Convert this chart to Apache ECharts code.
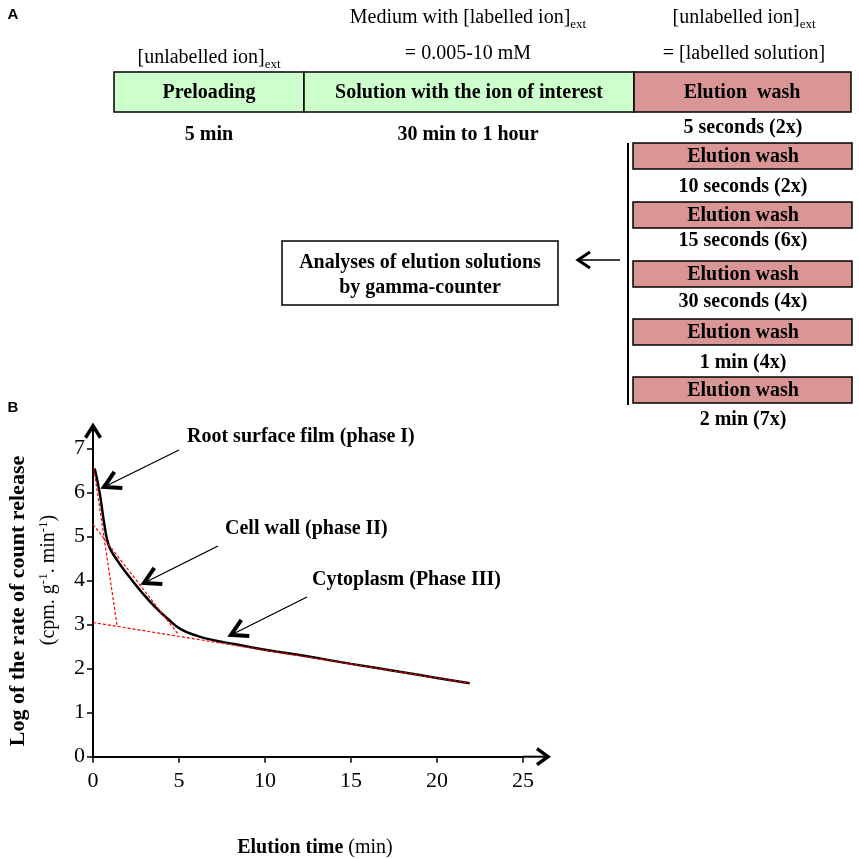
<!DOCTYPE html>
<html><head><meta charset="utf-8">
<script src="https://cdn.jsdelivr.net/npm/echarts@6/dist/echarts.min.js"></script>
<style>html,body{margin:0;padding:0;background:#fff}#c{width:859px;height:859px}</style>
</head><body><div id="c"></div>
<script>
// ---- data ----
const xTickValues = [0, 5, 10, 15, 20, 25];
const yTickValues = [0, 1, 2, 3, 4, 5, 6, 7];
const curveX = [0.1, 0.39, 0.68, 0.91, 1.26, 2.03, 2.81, 3.59, 4.36, 5.1, 6.1, 7.0, 8.2, 10, 12, 15, 18, 20, 21.9];
const curveY = [6.55, 5.99, 5.23, 4.81, 4.55, 4.13, 3.75, 3.41, 3.13, 2.9, 2.74, 2.65, 2.56, 2.43, 2.31, 2.11, 1.92, 1.79, 1.67];
const phase1X = [0.05, 1.41];
const phase1Y = [6.55, 2.95];
const phase2X = [0, 4.98];
const phase2Y = [5.28, 2.77];
const phase3X = [0, 21.9];
const phase3Y = [3.05, 1.67];
const phaseLabels = ['Root surface film (phase I)', 'Cell wall (phase II)', 'Cytoplasm (Phase III)'];
const washDurations = ['10 seconds (2x)', '15 seconds (6x)', '30 seconds (4x)', '1 min (4x)', '2 min (7x)'];

const pairs = (xs, ys) => xs.map((x, i) => [x, ys[i]]);
const SERIF = '"Liberation Serif","Times New Roman",serif';
const chart = echarts.init(document.getElementById('c'), null, {renderer: 'canvas'});

const redStyle = {color: '#ff0000', width: 1.2, type: [3, 2]};
chart.setOption({
  animation: false,
  backgroundColor: '#fff',
  grid: {left: 93, top: 448.7, width: 430, height: 308, containLabel: false},
  xAxis: {
    type: 'value', min: 0, max: 25, interval: 5,
    axisLine: {show: true, lineStyle: {color: '#000', width: 2}},
    axisTick: {show: true, inside: false, length: 6, lineStyle: {color: '#000', width: 1.5}},
    axisLabel: {color: '#000', fontFamily: SERIF, fontSize: 22, margin: 14},
    splitLine: {show: false}
  },
  yAxis: {
    type: 'value', min: 0, max: 7, interval: 1,
    axisLine: {show: true, lineStyle: {color: '#000', width: 2}},
    axisTick: {show: true, inside: false, length: 6, lineStyle: {color: '#000', width: 1.5}},
    axisLabel: {color: '#000', fontFamily: SERIF, fontSize: 22, margin: 8},
    splitLine: {show: false}
  },
  series: [
    {type: 'line', data: pairs(curveX, curveY), smooth: 0.5, symbol: 'none',
     lineStyle: {color: '#000', width: 2.5}, z: 2},
    {type: 'line', data: pairs(phase1X, phase1Y), symbol: 'none', lineStyle: redStyle, z: 3},
    {type: 'line', data: pairs(phase2X, phase2Y), symbol: 'none', lineStyle: redStyle, z: 3},
    {type: 'line', data: pairs(phase3X, phase3Y), symbol: 'none', lineStyle: redStyle, z: 3}
  ]
});

// ---- decorations (diagram) ----
const G = [];
function T(x, y, text, o) {
  o = o || {};
  G.push({type: 'text', x: x, y: y, rotation: o.rot || 0, z: 10, style: {
    text: text, fill: '#000', fontFamily: o.ff || SERIF, fontSize: o.fs || 20,
    fontWeight: o.fw || 'normal', align: o.al || 'center', textAlign: o.al || 'center',
    verticalAlign: 'middle', textVerticalAlign: 'middle', rich: o.rich}});
}
function R(x, y, w, h, fill, lw) {
  G.push({type: 'rect', z: 5, shape: {x: x, y: y, width: w, height: h},
    style: {fill: fill, stroke: '#000', lineWidth: lw || 1.5}});
}
function PL(pts, lw) {
  G.push({type: 'polyline', z: 10, shape: {points: pts}, style: {stroke: '#000', fill: null, lineWidth: lw, lineJoin: 'miter', lineCap: 'butt'}});
}
function chevron(tip, dx, dy, L, W, lw) {
  const n = Math.hypot(dx, dy); dx /= n; dy /= n;
  const px = -dy, py = dx;
  PL([[tip[0] - dx * L + px * W, tip[1] - dy * L + py * W], tip, [tip[0] - dx * L - px * W, tip[1] - dy * L - py * W]], lw);
}
function arrow(from, to, lw, L, W, clw) {
  PL([from, to], lw);
  chevron(to, to[0] - from[0], to[1] - from[1], L, W, clw);
}

const sub = {
  n: {fontSize: 20, fontFamily: SERIF, lineHeight: 26},
  s: {fontSize: 13, fontFamily: SERIF, lineHeight: 13, verticalAlign: 'bottom'}
};
const bold = {fw: 'bold'};

// panel labels
T(13, 15, 'A', {ff: '"Liberation Sans",Arial,sans-serif', fs: 15, fw: 'bold'});
T(13, 408, 'B', {ff: '"Liberation Sans",Arial,sans-serif', fs: 15, fw: 'bold'});

// top headings
T(468, 18, '{n|Medium with [labelled ion]}{s|ext}', {rich: sub});
T(468, 54, '= 0.005-10 mM');
T(744, 18, '{n|[unlabelled ion]}{s|ext}', {rich: sub});
T(744, 54, '= [labelled solution]');
T(209, 58, '{n|[unlabelled ion]}{s|ext}', {rich: sub});

// main boxes
R(114, 72, 190, 40, '#ccffcc');
R(304, 72, 330, 40, '#ccffcc');
R(634, 72, 217, 40, '#d99694');
T(209, 93, 'Preloading', bold);
T(469, 93, 'Solution with the ion of interest', bold);
T(742, 93, 'Elution  wash', bold);
T(209, 135, '5 min', bold);
T(468, 135, '30 min to 1 hour', bold);
T(743, 128, '5 seconds (2x)', bold);

// elution wash stack
PL([[628, 143], [628, 405]], 2);
const washTops = [143, 202, 261, 319, 377];
const washLabelY = [187, 241, 302, 363, 420];
washTops.forEach((t, i) => {
  R(633, t, 219, 26, '#d99694');
  T(743, t + 14, 'Elution wash', bold);
  T(743, washLabelY[i], washDurations[i], bold);
});

// analysis box
R(282, 241, 276, 64, '#ffffff', 1.5);
T(420, 263, 'Analyses of elution solutions', bold);
T(420, 288, 'by gamma-counter', bold);
arrow([620, 260], [578, 260], 1.5, 12, 8, 3);

// phase annotations
T(187, 437, phaseLabels[0], {fw: 'bold', al: 'left'});
arrow([179, 450], [104, 487], 1.3, 16, 9, 4);
T(225, 529, phaseLabels[1], {fw: 'bold', al: 'left'});
arrow([218, 546], [144, 583], 1.3, 16, 9, 4);
T(312, 580, phaseLabels[2], {fw: 'bold', al: 'left'});
arrow([307, 597], [231, 635], 1.3, 16, 9, 4);

// axis titles
T(18, 601, 'Log of the rate of count release', {fw: 'bold', fs: 22, rot: Math.PI / 2});
T(49, 580, '{m|(cpm. g}{p|-1}{m|. min}{p|-1}{m|)}', {rot: Math.PI / 2, rich: {
  m: {fontSize: 20, fontFamily: SERIF, lineHeight: 24},
  p: {fontSize: 13, fontFamily: SERIF, lineHeight: 12, verticalAlign: 'top'}}});
T(315, 848, '{b|Elution time} {m|(min)}', {rich: {
  b: {fontSize: 20, fontFamily: SERIF, fontWeight: 'bold'},
  m: {fontSize: 20, fontFamily: SERIF}}});

// axis arrow extensions (from the axes' own scale)
const o = chart.convertToPixel({gridIndex: 0}, [0, 0]);
const ytop = chart.convertToPixel({gridIndex: 0}, [0, 7]);
const xend = chart.convertToPixel({gridIndex: 0}, [25, 0]);
PL([[o[0], ytop[1]], [o[0], ytop[1] - 23]], 2);
chevron([o[0], ytop[1] - 23], 0, -1, 12, 7.5, 3.5);
PL([[xend[0], o[1]], [xend[0] + 25, o[1]]], 2);
chevron([xend[0] + 25, o[1]], 1, 0, 11, 8, 3.5);

chart.setOption({graphic: {elements: G}});
</script></body></html>
